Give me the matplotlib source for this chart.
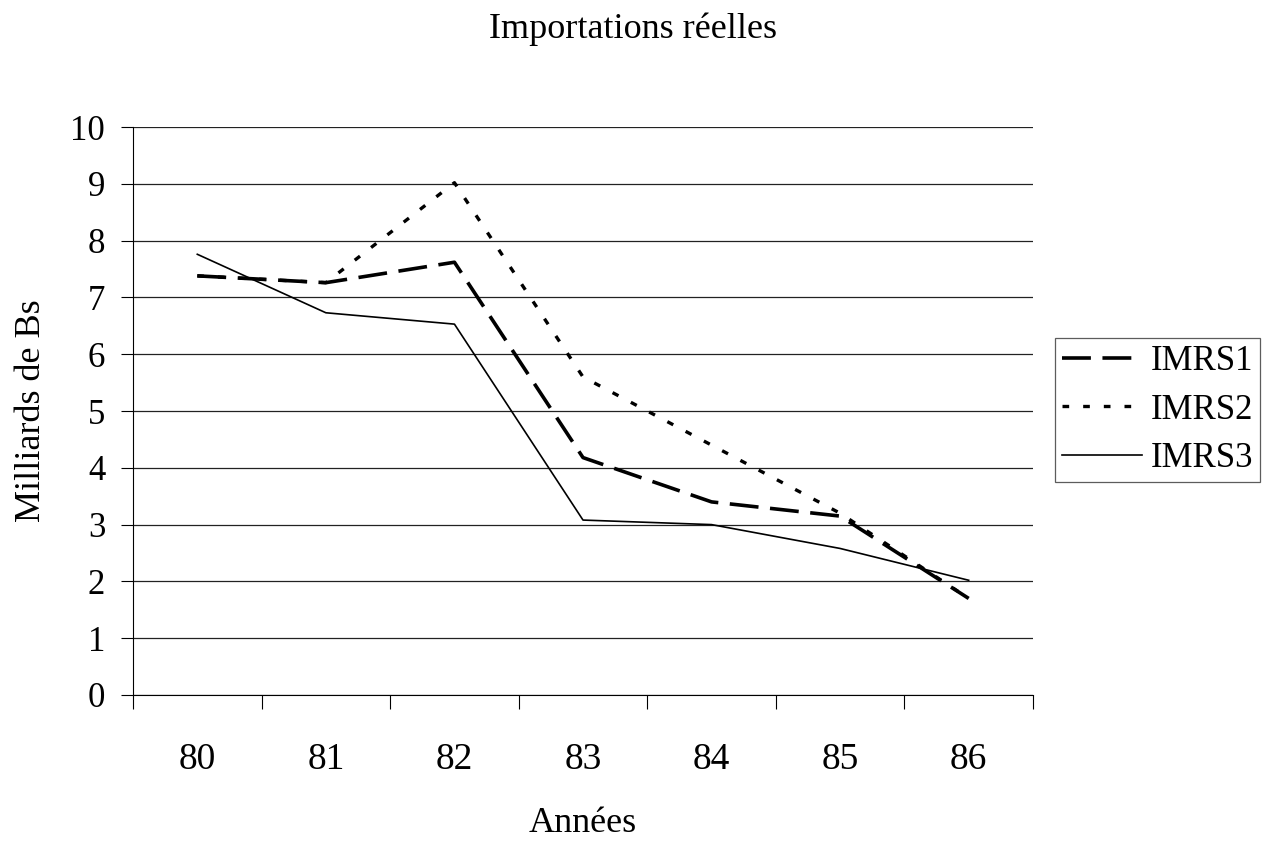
import matplotlib.pyplot as plt
import numpy as np

plt.rcParams['font.family'] = ['Liberation Serif', 'DejaVu Serif']

years = ['80', '81', '82', '83', '84', '85', '86']
imrs1 = [7.38, 7.26, 7.62, 4.18, 3.40, 3.15, 1.70]
imrs2 = [7.38, 7.26, 9.02, 5.60, 4.40, 3.20, 1.70]
imrs3 = [7.76, 6.73, 6.53, 3.08, 3.00, 2.58, 2.02]

fig = plt.figure(figsize=(12.84, 8.42), dpi=100)
ax = fig.add_axes([0.1036, 0.1746, 0.7009, 0.6745])

x = np.arange(len(years))
ax.plot(x, imrs1, color='black', lw=2.6, linestyle=(0, (8, 3.2)), label='IMRS1')
ax.plot(x, imrs2, color='black', lw=2.4, linestyle=(0, (2, 4.2)), label='IMRS2')
ax.plot(x, imrs3, color='black', lw=1.2, linestyle='-', label='IMRS3')

ax.set_xlim(-0.5, len(years) - 0.5)
ax.set_ylim(0, 10)
ax.set_yticks(range(0, 11))
ax.yaxis.grid(True, color='#222222', lw=0.9)
ax.set_axisbelow(True)

# category labels sit between the tick marks
ax.set_xticks(np.arange(-0.5, len(years)), minor=False)
ax.set_xticklabels([])
ax.set_xticks(x, minor=True)
ax.set_xticklabels(years, minor=True, fontsize=27)
ax.tick_params(axis='x', which='minor', length=0, pad=34)
ax.tick_params(axis='x', which='major', length=10, direction='out', width=0.8)
ax.tick_params(axis='y', length=9, direction='out', width=0.8, labelsize=25, pad=11)

for side in ['top', 'right']:
    ax.spines[side].set_visible(False)
ax.spines['left'].set_linewidth(0.8)
ax.spines['bottom'].set_linewidth(0.8)

ax.set_xlabel('Années', fontsize=26, labelpad=22)
ax.set_ylabel('Milliards de Bs', fontsize=26, labelpad=16)
fig.text(633 / 1284, 1 - 38 / 842, 'Importations réelles', fontsize=26,
         ha='center', va='baseline')

leg = ax.legend(loc='upper left', bbox_to_anchor=(1055 / 1284, 1 - 338 / 842),
                bbox_transform=fig.transFigure, fontsize=25,
                frameon=True, fancybox=False, edgecolor='#333333',
                handlelength=2.3, borderpad=0.2, labelspacing=0.45,
                handletextpad=0.25, borderaxespad=0)
leg.get_frame().set_linewidth(0.9)

fig.savefig('out.png', dpi=100, facecolor='white')
